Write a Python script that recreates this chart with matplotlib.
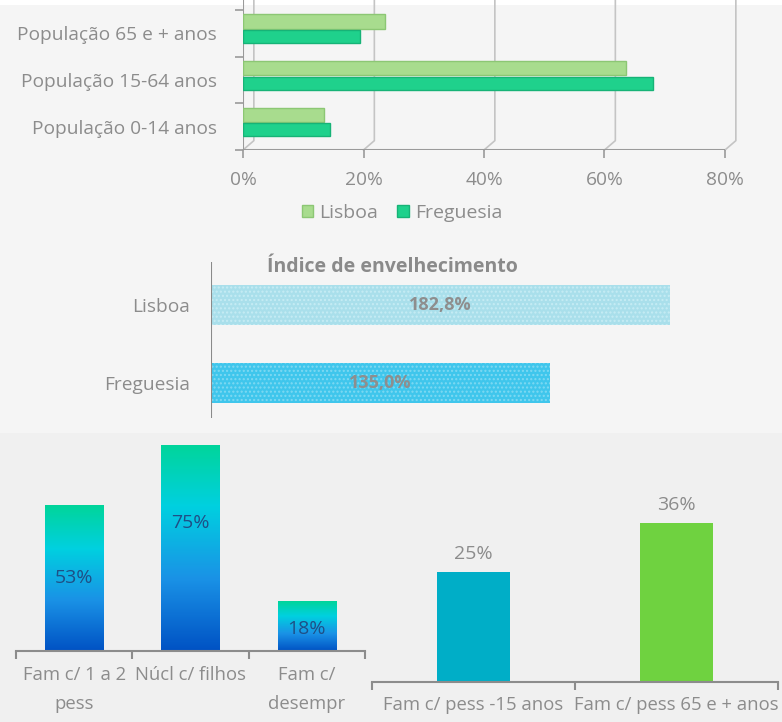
import matplotlib.pyplot as plt
import numpy as np
from matplotlib.colors import LinearSegmentedColormap
from matplotlib.patches import Rectangle

plt.rcParams['font.family'] = ['Open Sans', 'DejaVu Sans']

# --- dados ---
idade_labels = ["População 0-14 anos", "População 15-64 anos", "População 65 e + anos"]
lisboa_idade = [13.5, 63.5, 23.5]
freguesia_idade = [14.5, 68.0, 19.5]
idade_ticks = [0, 20, 40, 60, 80]

indice_labels = ["Freguesia", "Lisboa"]
indice_valores = [135.0, 182.8]
indice_textos = ["135,0%", "182,8%"]

familia_labels = ["Fam c/ 1 a 2\npess", "Núcl c/ filhos", "Fam c/\ndesempr"]
familia_valores = [53, 75, 18]

pess_labels = ["Fam c/ pess -15 anos", "Fam c/ pess 65 e + anos"]
pess_valores = [25, 36]

GREY = "#8c8c8c"
W, H = 782, 722


def px_axes(fig, x0, y0, x1, y1):
    """eixos a partir de coordenadas em pixels (origem no topo)."""
    return fig.add_axes([x0 / W, 1 - y1 / H, (x1 - x0) / W, (y1 - y0) / H])


def clean(ax):
    ax.set_facecolor("none")
    for s in ax.spines.values():
        s.set_visible(False)


fig = plt.figure(figsize=(W / 100, H / 100), dpi=100)
fig.patch.set_facecolor("#f5f5f5")
fig.add_artist(Rectangle((0, 0), 1, 1 - 433 / H, transform=fig.transFigure,
                         facecolor="#f0f0f0", edgecolor="none", zorder=-5))
fig.add_artist(Rectangle((0, 1 - 5 / H), 1, 5 / H, transform=fig.transFigure,
                         facecolor="white", edgecolor="none", zorder=-5))

# --- 1. estrutura etária (barras horizontais "3D") ---
ax1 = px_axes(fig, 243, 0, 725, 150)
clean(ax1)
y = np.arange(len(idade_labels))
ax1.barh(y + 0.25, lisboa_idade, height=0.3, color="#a8dc8e",
         edgecolor="#8cc774", linewidth=1, label="Lisboa", zorder=3)
ax1.barh(y - 0.07, freguesia_idade, height=0.28, color="#1fd18c",
         edgecolor="#17b377", linewidth=1, label="Freguesia", zorder=4)
for v in idade_ticks:
    ax1.plot([v, v + 1.8, v + 1.8], [-0.5, -0.3, 2.75], color="#c4c4c4",
             lw=1.2, zorder=1, clip_on=False)
ax1.axhline(-0.5, color="#9a9a9a", lw=1.5, zorder=2)
ax1.axvline(0, color="#9a9a9a", lw=1.5, zorder=2)
ax1.set_xlim(0, 80)
ax1.set_ylim(-0.5, 2.71)
ax1.set_xticks(idade_ticks)
ax1.set_xticklabels([f"{v}%" for v in idade_ticks])
ax1.set_yticks(y)
ax1.set_yticklabels(idade_labels)
ax1.set_yticks([-0.5, 0.5, 1.5, 2.5], minor=True)
ax1.tick_params(axis="y", which="major", length=0, pad=19, labelsize=13.8, labelcolor=GREY)
ax1.tick_params(axis="y", which="minor", length=6, color="#9a9a9a", width=1.2)
ax1.tick_params(axis="x", length=6, color="#9a9a9a", width=1.2, pad=9,
                labelsize=13.8, labelcolor=GREY)
fig.legend(*ax1.get_legend_handles_labels(), loc="center", ncol=2,
           bbox_to_anchor=(402 / W, 1 - 213 / H), frameon=False,
           handlelength=0.6, handleheight=0.6, handletextpad=0.3, columnspacing=1.0,
           labelcolor=GREY, prop={"size": 14})

# --- 2. índice de envelhecimento ---
ax2 = px_axes(fig, 211, 262, 713, 418)
clean(ax2)
yy = np.arange(len(indice_labels))
bars = ax2.barh(yy, indice_valores, height=0.51, color=["#3fc6ec", "#a9dfeb"],
                edgecolor=["#7fd9f2", "#c6ecf4"], linewidth=0, hatch="....", zorder=2)
for b, txt in zip(bars, indice_textos):
    ax2.text(b.get_width() / 2, b.get_y() + b.get_height() / 2, txt, ha="center",
             va="center", color="#8e8e8e", fontsize=13, fontweight="bold", zorder=3)
ax2.axvline(0, color="#8a8a8a", lw=1.5)
ax2.set_xlim(0, 200)
ax2.set_ylim(-0.449, 1.55)
ax2.set_xticks([])
ax2.set_yticks(yy)
ax2.set_yticklabels(indice_labels)
ax2.tick_params(axis="y", length=0, pad=15, labelsize=13.8, labelcolor=GREY)
fig.text(392 / W, 1 - 267 / H, "Índice de envelhecimento", ha="center", va="center",
         fontsize=14, fontweight="bold", color="#8a8a8a")

# --- 3. tipologia das famílias (gradiente) ---
ax3 = px_axes(fig, 16, 435, 365, 651)
clean(ax3)
x3 = np.arange(len(familia_labels))
cmap = LinearSegmentedColormap.from_list(
    "fam", [(0.0, "#0052c4"), (0.35, "#1a92e6"), (0.7, "#00d0e0"), (1.0, "#00d59a")])
grad = np.linspace(0, 1, 256).reshape(-1, 1)
fam_bars = ax3.bar(x3, familia_valores, width=0.5, color="none", zorder=2)
for b, v in zip(fam_bars, familia_valores):
    im = ax3.imshow(grad, cmap=cmap, origin="lower", aspect="auto", zorder=2,
                    extent=[b.get_x(), b.get_x() + b.get_width(), 0, v])
    im.set_clip_path(b)
ax3.text(0, 53 * 0.5, "53%", ha="center", va="center", color="#1f4f86", fontsize=14, zorder=3)
ax3.text(1, 75 * 0.62, "75%", ha="center", va="center", color="#1f4f86", fontsize=14, zorder=3)
ax3.text(2, 18 * 0.45, "18%", ha="center", va="center", color="#1f4f86", fontsize=14, zorder=3)
ax3.set_xlim(-0.5, 2.5)
ax3.set_ylim(0, 78.5)
ax3.spines["bottom"].set_visible(True)
ax3.spines["bottom"].set_color("#8c8c8c")
ax3.spines["bottom"].set_linewidth(1.5)
ax3.set_yticks([])
ax3.set_xticks(x3)
ax3.set_xticklabels(familia_labels, linespacing=1.75)
ax3.set_xticks([-0.5, 0.5, 1.5, 2.5], minor=True)
ax3.tick_params(axis="x", which="major", length=0, pad=11, labelsize=13.3, labelcolor=GREY)
ax3.tick_params(axis="x", which="minor", length=6, color="#8c8c8c", width=1.5)

# --- 4. famílias com crianças / idosos ---
ax4 = px_axes(fig, 372, 435, 778, 682)
clean(ax4)
x4 = np.arange(len(pess_labels))
ax4.bar(x4, pess_valores, width=0.36, color=["#00aec7", "#6fd240"], zorder=2)
for xi, v in zip(x4, pess_valores):
    ax4.text(xi, v + 2.0, f"{v}%", ha="center", va="bottom", color=GREY, fontsize=14)
ax4.set_xlim(-0.5, 1.5)
ax4.set_ylim(0, 56)
ax4.spines["bottom"].set_visible(True)
ax4.spines["bottom"].set_color("#8c8c8c")
ax4.spines["bottom"].set_linewidth(1.5)
ax4.set_yticks([])
ax4.set_xticks(x4)
ax4.set_xticklabels(pess_labels)
ax4.set_xticks([-0.5, 0.5, 1.5], minor=True)
ax4.tick_params(axis="x", which="major", length=0, pad=10, labelsize=13.3, labelcolor=GREY)
ax4.tick_params(axis="x", which="minor", length=6, color="#8c8c8c", width=1.5)

fig.savefig("out.png", dpi=100, facecolor=fig.get_facecolor())
